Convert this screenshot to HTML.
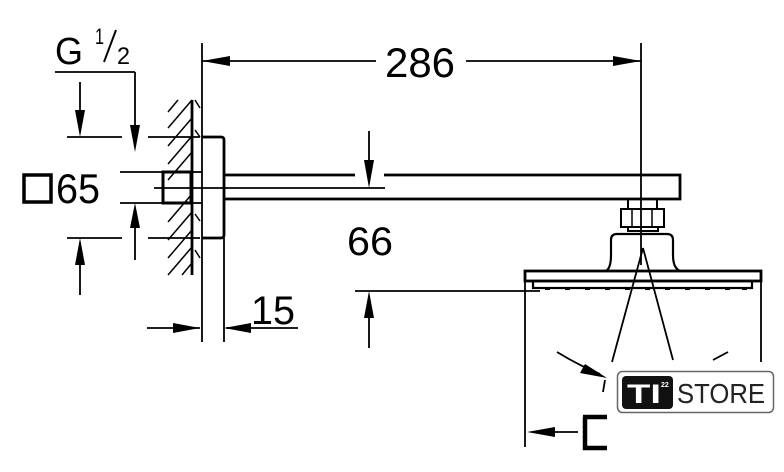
<!DOCTYPE html>
<html><head><meta charset="utf-8"><style>
html,body{margin:0;padding:0;background:#fff;}
svg{display:block;}
text{font-family:"Liberation Sans",sans-serif;fill:#000;}
</style></head><body>
<svg width="784" height="472" viewBox="0 0 784 472" xmlns="http://www.w3.org/2000/svg">
<g stroke="#000" fill="none" stroke-width="1.8">
<line x1="202" y1="43" x2="202" y2="342"/>
<line x1="641" y1="43" x2="641" y2="265"/>
<line x1="202" y1="61" x2="376" y2="61"/>
<line x1="466" y1="61" x2="641" y2="61"/>
<line x1="55" y1="72" x2="135" y2="72"/>
<line x1="135" y1="72" x2="135" y2="125"/>
<line x1="135" y1="228" x2="135" y2="260"/>
<line x1="80" y1="82" x2="80" y2="112"/>
<line x1="67" y1="137" x2="122" y2="137"/>
<line x1="148" y1="137" x2="200" y2="137"/>
<line x1="67" y1="238" x2="122" y2="238"/>
<line x1="148" y1="238" x2="200" y2="238"/>
<line x1="80" y1="265" x2="80" y2="295"/>
<line x1="120" y1="172" x2="162" y2="172"/>
<line x1="120" y1="203" x2="162" y2="203"/>
<line x1="192" y1="100" x2="192" y2="275" stroke-width="2.8"/>
<line x1="154" y1="188" x2="224" y2="188"/>
<line x1="224" y1="238" x2="224" y2="342"/>
<line x1="147" y1="328" x2="200" y2="328"/>
<line x1="226" y1="328" x2="298" y2="328"/>
<line x1="369" y1="131" x2="369" y2="165"/>
<line x1="224" y1="188" x2="385" y2="188"/>
<line x1="355" y1="291" x2="540" y2="291"/>
<line x1="369" y1="316" x2="369" y2="348"/>
<line x1="525" y1="281" x2="525" y2="447"/>
<line x1="761" y1="281" x2="761" y2="362"/>
<line x1="643" y1="248" x2="612" y2="362"/>
<line x1="643" y1="248" x2="673" y2="360"/>
<line x1="605" y1="380" x2="603" y2="392"/>
<path d="M557 352 Q580 366 600 374"/>
<line x1="713" y1="360" x2="728" y2="352"/>
<line x1="548" y1="432" x2="578" y2="432"/>
</g>
<g stroke="#000" stroke-width="1.5">
<line x1="168" y1="112" x2="178" y2="100"/>
<line x1="168" y1="128" x2="192" y2="100"/>
<line x1="168" y1="146" x2="192" y2="118"/>
<line x1="168" y1="164" x2="192" y2="136"/>
<line x1="168" y1="180" x2="192" y2="152"/>
<line x1="168" y1="222" x2="192" y2="194"/>
<line x1="168" y1="240" x2="192" y2="212"/>
<line x1="168" y1="258" x2="192" y2="230"/>
<line x1="168" y1="275" x2="192" y2="247"/>
<line x1="182" y1="275" x2="192" y2="263"/>
<line x1="195" y1="100" x2="200" y2="108"/>
<line x1="195" y1="130" x2="200" y2="137"/>
<line x1="195" y1="214" x2="200" y2="221"/>
<line x1="195" y1="250" x2="200" y2="258"/>
</g>
<g stroke="#000" fill="none" stroke-width="2.8">
<path d="M202 137 H221 Q224 137 224 140 V235 Q224 238 221 238 H202"/>
<rect x="163" y="172" width="28" height="31" stroke-width="3"/>
<line x1="192" y1="172" x2="202" y2="172" stroke-width="1.8"/>
<line x1="192" y1="203" x2="202" y2="203" stroke-width="1.8"/>
<path d="M224 175 H355 M384 175 H680 V199 H224"/>
<rect x="24" y="175" width="27" height="27" stroke-width="3.5"/>
<path d="M628 200 V208 M657 200 V208" stroke-width="2"/>
<rect x="621" y="209" width="43" height="18" stroke-width="2"/>
<path d="M632 209 V227 M652 209 V227" stroke-width="1.5"/>
<rect x="628" y="227" width="30" height="4" stroke-width="2"/>
<path d="M606 271 Q611 268 611 255 V240 Q611 234 617 234 H667 Q673 234 673 240 V255 Q673 268 680 271" stroke-width="2.2"/>
<rect x="525" y="271" width="236" height="10" stroke-width="2.8"/>
<rect x="533" y="281" width="219" height="7" stroke-width="2.2"/>
<path d="M583 417 H607 M585 417 V448 H607" stroke-width="4.5"/>
</g>
<g fill="#000">
<rect x="545" y="288" width="5" height="2"/><rect x="565" y="288" width="5" height="2"/><rect x="585" y="288" width="5" height="2"/><rect x="605" y="288" width="5" height="2"/><rect x="625" y="288" width="5" height="2"/><rect x="645" y="288" width="5" height="2"/><rect x="665" y="288" width="5" height="2"/><rect x="685" y="288" width="5" height="2"/><rect x="705" y="288" width="5" height="2"/><rect x="725" y="288" width="5" height="2"/><rect x="742" y="288" width="5" height="2"/>
</g>
<g fill="#000">
<polygon points="202,61 230,56 230,66"/>
<polygon points="641,61 613,56 613,66"/>
<polygon points="135,152 130,125 140,125"/>
<polygon points="135,203 130,228 140,228"/>
<polygon points="80,137 75,110 85,110"/>
<polygon points="80,238 75,265 85,265"/>
<polygon points="200,328 173,323 173,333"/>
<polygon points="224,328 251,323 251,333"/>
<polygon points="369,188 364,160 374,160"/>
<polygon points="369,291 364,318 374,318"/>
<polygon points="527,432 555,427 555,437"/>
<polygon points="607,378 585,364 580,373"/>
</g>
<text x="385" y="77" font-size="42" textLength="70" lengthAdjust="spacingAndGlyphs">286</text>
<text x="55" y="64" font-size="38" textLength="28" lengthAdjust="spacingAndGlyphs">G</text>
<text x="95" y="44" font-size="22" textLength="9" lengthAdjust="spacingAndGlyphs">1</text>
<line x1="104" y1="62" x2="116" y2="30" stroke="#000" stroke-width="2"/>
<text x="117" y="64" font-size="24" textLength="13" lengthAdjust="spacingAndGlyphs">2</text>
<text x="56" y="203" font-size="42" textLength="44" lengthAdjust="spacingAndGlyphs">65</text>
<text x="347" y="255" font-size="40" textLength="46" lengthAdjust="spacingAndGlyphs">66</text>
<text x="251" y="324" font-size="40" textLength="44" lengthAdjust="spacingAndGlyphs">15</text>
<rect x="617.5" y="371.5" width="156" height="41" rx="5" fill="#fff" stroke="#666" stroke-width="1.5"/>
<rect x="622" y="376" width="51" height="33" rx="4" fill="#111"/>
<text x="627" y="403" font-size="27" font-weight="bold" style="fill:#fff" textLength="34" lengthAdjust="spacingAndGlyphs">TI</text>
<text x="661" y="387" font-size="7" font-weight="bold" style="fill:#fff">22</text>
<text x="677" y="403" font-size="28" textLength="88" lengthAdjust="spacingAndGlyphs" style="fill:#222">STORE</text>
</svg>
</body></html>
